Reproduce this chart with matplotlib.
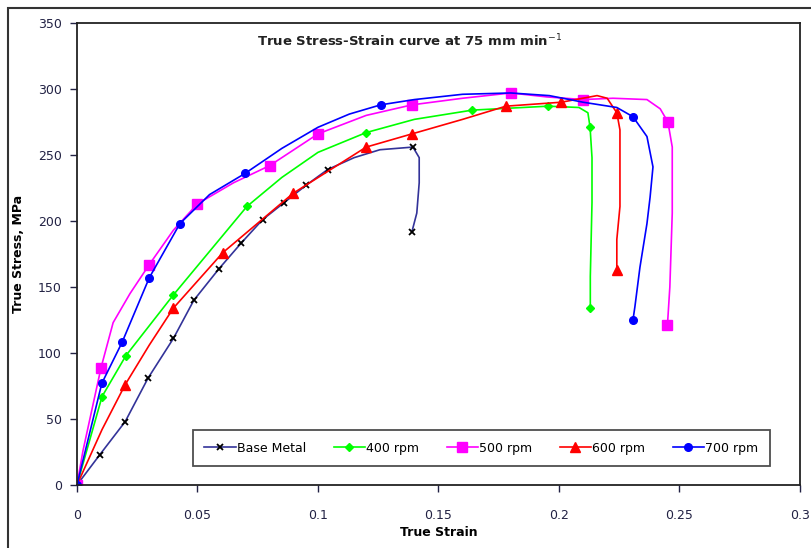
import matplotlib.pyplot as plt
from matplotlib.patches import Rectangle

# data (true strain, true stress MPa)
base_x = [0, 0.0095, 0.02, 0.0295, 0.04, 0.0485, 0.059, 0.068, 0.077, 0.086, 0.095, 0.104, 0.115, 0.1257, 0.1394, 0.142, 0.142, 0.141, 0.139]
base_y = [0, 23, 48, 81, 111, 140, 164, 183, 201, 214, 227, 239, 248, 254, 256, 248, 229, 206, 192]
base_mk = [0, 1, 2, 3, 4, 5, 6, 7, 8, 9, 10, 11, 14, 18]

rpm400_x = [0, 0.0104, 0.0203, 0.040, 0.0705, 0.085, 0.10, 0.120, 0.14, 0.164, 0.1955, 0.2083, 0.212, 0.2129, 0.2137, 0.2137, 0.213, 0.213]
rpm400_y = [0, 67, 98, 144, 211, 233, 252, 267, 277, 284, 287, 286, 282, 271, 248, 214, 158, 134]
rpm400_mk = [0, 1, 2, 3, 4, 7, 9, 10, 13, 17]

rpm500_x = [0, 0.0025, 0.010, 0.015, 0.022, 0.030, 0.040, 0.050, 0.065, 0.080, 0.100, 0.120, 0.139, 0.160, 0.180, 0.195, 0.210, 0.2224, 0.2365, 0.242, 0.2452, 0.247, 0.247, 0.246, 0.245]
rpm500_y = [0, 26, 89, 123, 145, 167, 193, 213, 229, 242, 266, 280, 288, 293, 297, 294, 292, 293, 292, 285, 275, 256, 206, 150, 121]
rpm500_mk = [0, 2, 5, 7, 9, 10, 12, 14, 16, 20, 24]

rpm600_x = [0, 0.0104, 0.020, 0.030, 0.040, 0.0605, 0.0897, 0.120, 0.139, 0.160, 0.178, 0.201, 0.2158, 0.220, 0.224, 0.2253, 0.2253, 0.224, 0.224]
rpm600_y = [0, 42, 76, 106, 134, 176, 221, 256, 266, 277, 287, 290, 295, 293, 282, 269, 211, 186, 163]
rpm600_mk = [0, 2, 4, 5, 6, 7, 8, 10, 11, 14, 18]

rpm700_x = [0, 0.0103, 0.0187, 0.030, 0.0427, 0.055, 0.0697, 0.085, 0.100, 0.113, 0.126, 0.140, 0.160, 0.180, 0.196, 0.210, 0.224, 0.2307, 0.2365, 0.239, 0.2378, 0.2365, 0.2336, 0.2315, 0.2307]
rpm700_y = [0, 77, 108, 157, 198, 220, 236, 255, 271, 281, 288, 292, 296, 297, 295, 290, 286, 279, 264, 241, 218, 198, 165, 135, 125]
rpm700_mk = [0, 1, 2, 3, 4, 6, 10, 17, 24]

fig = plt.figure(figsize=(8.12, 5.48), dpi=100)
ax = fig.add_axes([0.0948, 0.115, 0.8904, 0.843])

# outer chart frame
fig.patches.append(Rectangle((0.010, -0.1), 1.2, 1.1 - 0.0146, transform=fig.transFigure,
                             fill=False, lw=1.5, ec='#333333'))

ax.plot(base_x, base_y, color='#333399', marker='x', mec='black', mew=1.3, ms=5,
        markevery=base_mk, lw=1.2, label='Base Metal')
ax.plot(rpm400_x, rpm400_y, color='#00FF00', marker='D', ms=4.5, markevery=rpm400_mk,
        lw=1.2, label='400 rpm')
ax.plot(rpm500_x, rpm500_y, color='#FF00FF', marker='s', ms=6.5, markevery=rpm500_mk,
        lw=1.2, label='500 rpm')
ax.plot(rpm600_x, rpm600_y, color='#FF0000', marker='^', ms=6.5, markevery=rpm600_mk,
        lw=1.2, label='600 rpm')
ax.plot(rpm700_x, rpm700_y, color='#0000FF', marker='o', ms=5.5, markevery=rpm700_mk,
        lw=1.2, label='700 rpm')

ax.set_xlim(0, 0.3)
ax.set_ylim(0, 350)
ax.set_xticks([0, 0.05, 0.1, 0.15, 0.2, 0.25, 0.3])
ax.set_xticklabels(['0', '0.05', '0.1', '0.15', '0.2', '0.25', '0.3'])
ax.set_yticks(range(0, 351, 50))
ax.tick_params(direction='out', length=5, width=1, labelsize=9, colors='#222244', pad=12)
ax.tick_params(axis='y', pad=6)
for s in ax.spines.values():
    s.set_linewidth(1.3)
    s.set_color('#222222')

ax.set_xlabel('True Strain', fontsize=9, fontweight='bold', labelpad=3)
ax.set_ylabel('True Stress, MPa', fontsize=9, fontweight='bold', labelpad=9)
ax.text(0.46, 0.96, 'True Stress-Strain curve at 75 mm min$^{-1}$', transform=ax.transAxes,
        ha='center', va='center', fontsize=9.5, fontweight='bold', color='#222222')

leg = ax.legend(loc='center', bbox_to_anchor=(0.5595, 0.08), ncol=5, fontsize=9,
                frameon=True, fancybox=False, edgecolor='#222222', handlelength=2.5,
                columnspacing=2.2, handletextpad=0.1, borderpad=0.9)
leg.get_frame().set_linewidth(1.3)

fig.savefig('out.png', dpi=100)
